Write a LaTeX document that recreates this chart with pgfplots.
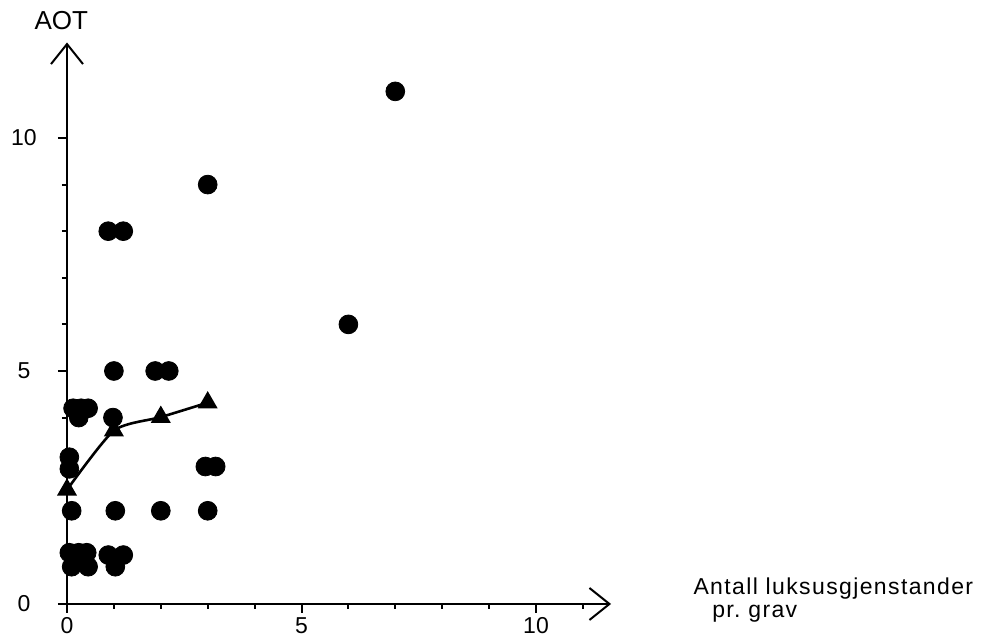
\documentclass[border=0pt]{standalone}
\usepackage{fontspec}
\setmainfont{Liberation Sans}
\newfontfamily\widefont[LetterSpace=6]{Liberation Sans}
\usepackage{pgfplots}
\usepackage{pgfplotstable}
\pgfplotsset{compat=1.18}
\usetikzlibrary{arrows.meta}

% dots: AOT against number of luxury objects per grave (jittered as drawn)
\pgfplotstableread{
x y
7 11
3 9
6 6
0.88 8
1.2 8
1 5
1.88 5
2.17 5
0.13 4.2
0.3 4.2
0.45 4.2
0.25 4.0
0.98 4
0.05 3.15
0.05 2.9
2.95 2.95
3.17 2.95
0.1 2
1.03 2
2 2
3 2
0.05 1.1
0.25 1.1
0.42 1.1
0.1 0.8
0.45 0.8
0.88 1.05
1.2 1.05
1.03 0.8
}\dots

\begin{document}
\begin{tikzpicture}
\begin{axis}[
  x=23.45pt, y=23.3pt,
  xmin=0, xmax=11.6, ymin=0, ymax=12.05,
  axis lines=left,
  axis line style={line width=1pt, -{Straight Barb[length=10pt,width=16pt,line width=1pt]}},
  clip=false,
  xtick={0,5,10}, ytick={0,5,10},
  minor xtick={1,2,3,4,6,7,8,9,11},
  minor ytick={1,2,3,4,6,7,8,9},
  tick align=outside,
  major tick length=4.5pt, minor tick length=2.5pt,
  tick style={line width=1pt, black},
  minor tick style={line width=1pt, black},
  ticklabel style={font=\fontsize{11.5}{13}\selectfont},
  /pgf/number format/assume math mode=true,
  yticklabel style={anchor=center, xshift=-17pt},
  xticklabel style={inner sep=2pt},
]
\addplot[only marks, mark=*, mark size=4.7pt, mark options={fill=black, draw=black}]
  table {\dots};
\addplot[line width=1.3pt, smooth, tension=0.4, mark=triangle*, mark size=4.5pt,
  mark options={fill=black, draw=black}]
  coordinates {(0,2.45) (1,3.72) (2,4.01) (3,4.32)};

\node at (axis cs:-0.12,12.52) {\fontsize{13}{15}\selectfont AOT};
\node[anchor=west, inner sep=0pt] at (axis cs:13.35,0.33)
  {\widefont\fontsize{11.5}{13}\selectfont Antall luksusgjenstander};
\node[anchor=west, inner sep=0pt] at (axis cs:13.75,-0.2)
  {\widefont\fontsize{11.5}{13}\selectfont pr.\ grav};

\coordinate (bl) at (axis cs:-1.4286,-0.77);
\coordinate (tr) at (axis cs:19.595,12.961);
\end{axis}
\pgfresetboundingbox
\path[use as bounding box] (bl) rectangle (tr);
\end{tikzpicture}
\end{document}
